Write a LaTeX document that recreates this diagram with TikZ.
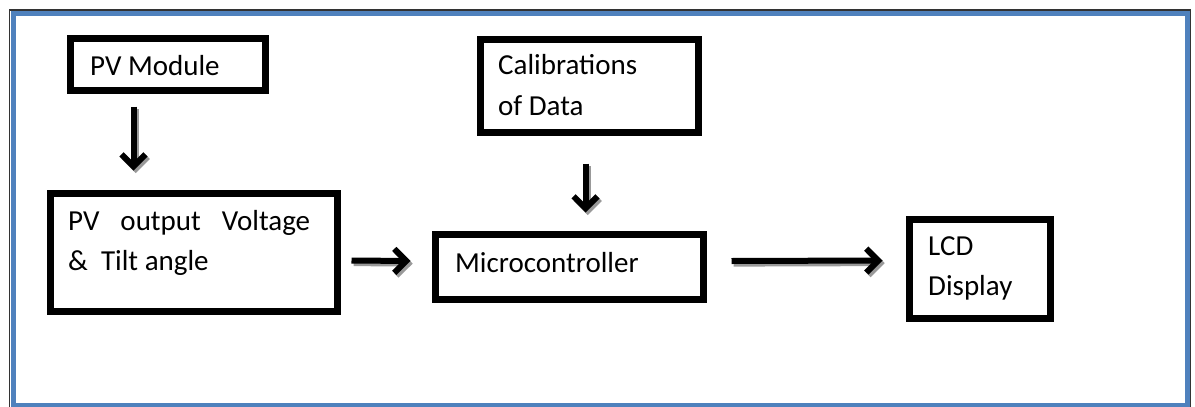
\documentclass[tikz,border=0pt]{standalone}
\usepackage{fontspec}
\setmainfont{Carlito}
\usetikzlibrary{arrows.meta,calc}
\definecolor{frameblue}{HTML}{4F81BD}
\tikzset{
  blk/.style={draw=black, line width=7pt, fill=white, inner sep=0pt, anchor=north west},
  txt/.style={inner sep=0pt, anchor=base west, font=\fontsize{29}{35}\selectfont},
  shade/.style={draw=black!40, line width=6pt, -{Straight Barb[length=12pt,width=24pt]}},
  conn/.style={line width=6pt, -{Straight Barb[length=12pt,width=24pt]},
    preaction={shade, transform canvas={shift={(2.2pt,-2.6pt)}}}}
}
\begin{document}
\begin{tikzpicture}[x=1pt,y=-1pt]
\useasboundingbox (0,0) rectangle (1195,407);
% outer frame
\draw[black!80, line width=1.5pt] (9.5,10) rectangle (1190.5,420);
\draw[frameblue, line width=5pt] (13,13.5) rectangle (1187,405);
% blocks
\node[blk, minimum width=195pt, minimum height=52pt] (pvm) at (66.5,34.5) {};
\node[blk, minimum width=287pt, minimum height=118pt] (pvo) at (46.5,189.5) {};
\node[blk, minimum width=268pt, minimum height=65pt] (mc) at (431.5,230.5) {};
\node[blk, minimum width=218pt, minimum height=93pt] (cal) at (476.5,35.5) {};
\node[blk, minimum width=141pt, minimum height=99pt] (lcd) at (905.5,215.5) {};
% texts
\node[txt] (tpvm) at (90,75) {PV Module};
\node[txt] (tpvo1) at (68,230) {\makebox[242pt][s]{PV output Voltage}};
\node[txt] (tpvo2) at (68,270) {\&\ \ Tilt angle};
\node[txt] (tmc) at (455,272) {Microcontroller};
\node[txt] (tcal1) at (498,74) {Calibrations};
\node[txt] (tcal2) at (498,115) {of Data};
\node[txt] (tlcd1) at (928,255) {LCD};
\node[txt] (tlcd2) at (928,295) {Display};
% connectors
\draw[conn] ($(pvm.south west)+(67,13)$) -- ($(pvo.north west)+(87,-19)$);
\draw[conn] ($(pvo.east)+(11,8.5)$) -- ($(mc.west)+(-21,-5.5)$);
\draw[conn] ($(cal.south)+(-3.5,28)$) -- ($(mc.north)+(16.5,-18)$);
\draw[conn] ($(mc.east)+(25,-5.5)$) -- ($(lcd.west)+(-23,-8)$);
\end{tikzpicture}
\end{document}
